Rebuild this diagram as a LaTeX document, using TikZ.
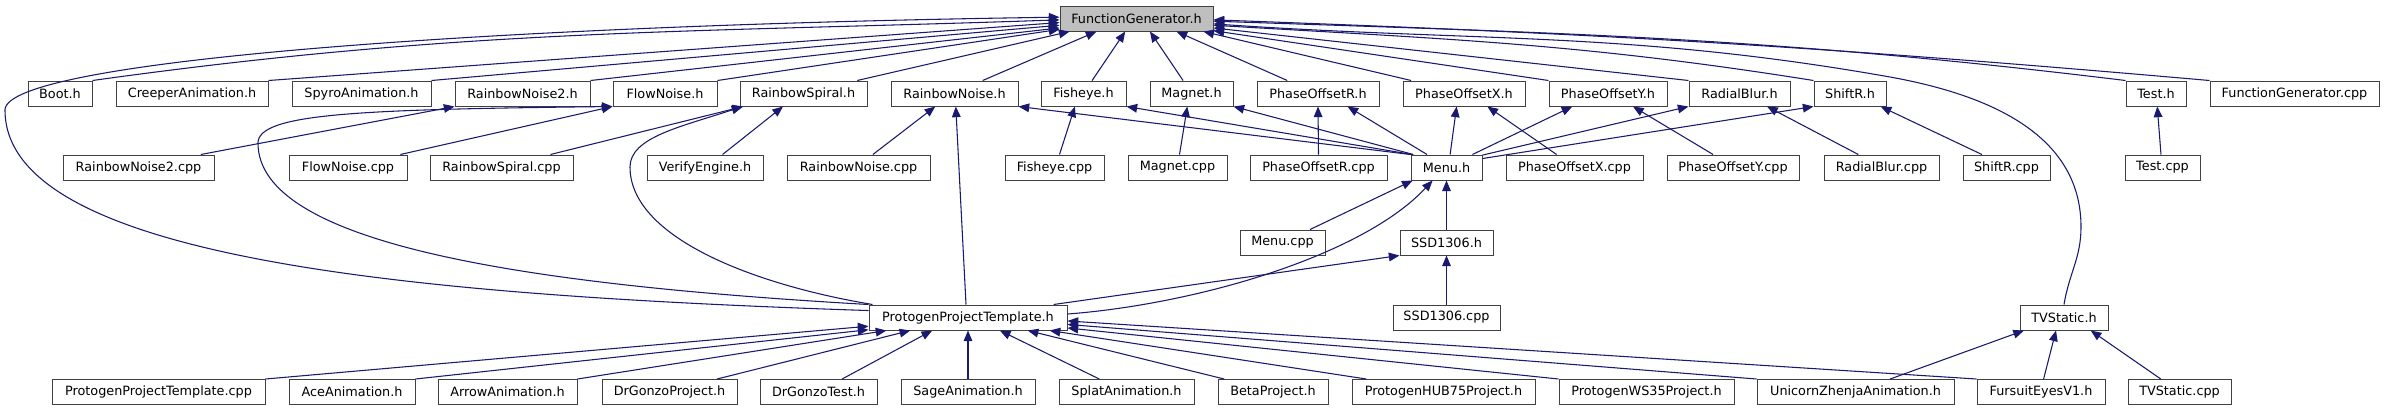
\documentclass[tikz,border=0pt]{standalone}
\usepackage{fontspec}
\setmainfont{DejaVu Sans}
\usetikzlibrary{arrows.meta,calc}
\definecolor{edgeblue}{RGB}{25,25,112}
\definecolor{boxborder}{RGB}{64,64,64}
\definecolor{rootfill}{RGB}{191,191,191}
\newcommand{\mkbox}[5]{\node[box, minimum width={(#3-#2)*0.75pt}] (#1) at ({(#2+#3)/2},#4) {#5};}
\begin{document}
\begin{tikzpicture}[x=0.75pt,y=-0.75pt,
  box/.style={draw=boxborder, line width=0.75pt, fill=white, inner sep=0pt,
    minimum height=18.75pt, font=\fontsize{9.6}{11}\selectfont},
  root/.style={box, fill=rootfill},
  edge/.style={draw=edgeblue, line width=0.8pt, -{Triangle[length=8pt,width=6.5pt]}}]
\fill[white] (0,0) rectangle (2384,411);
\useasboundingbox (0,0) rectangle (2384,411);
% root
\node[root, minimum width={153*0.75pt}] (fg) at (1136.5,18.5) {FunctionGenerator.h};
% row 1
\mkbox{boot}{28}{92}{93.5}{Boot.h}
\mkbox{creeper}{116}{268}{93.5}{CreeperAnimation.h}
\mkbox{spyro}{292}{431}{93.5}{SpyroAnimation.h}
\mkbox{rn2h}{455}{590}{93.5}{RainbowNoise2.h}
\mkbox{flowh}{613}{717}{93.5}{FlowNoise.h}
\mkbox{rspiralh}{740}{867}{93.5}{RainbowSpiral.h}
\mkbox{rnh}{891}{1018}{93.5}{RainbowNoise.h}
\mkbox{fisheyeh}{1041}{1126}{93.5}{Fisheye.h}
\mkbox{magneth}{1150}{1233}{93.5}{Magnet.h}
\mkbox{porh}{1257}{1379}{93.5}{PhaseOffsetR.h}
\mkbox{poxh}{1403}{1525}{93.5}{PhaseOffsetX.h}
\mkbox{poyh}{1549}{1667}{93.5}{PhaseOffsetY.h}
\mkbox{rbh}{1689}{1790}{93.5}{RadialBlur.h}
\mkbox{shifth}{1814}{1886}{93.5}{ShiftR.h}
\mkbox{testh}{2126}{2186}{93.5}{Test.h}
\mkbox{fgcpp}{2210}{2379}{93.5}{FunctionGenerator.cpp}
% row 2
\mkbox{rn2cpp}{63}{214}{167.5}{RainbowNoise2.cpp}
\mkbox{flowcpp}{289}{407}{167.5}{FlowNoise.cpp}
\mkbox{rspiralcpp}{430}{573}{167.5}{RainbowSpiral.cpp}
\mkbox{verify}{647}{763}{167.5}{VerifyEngine.h}
\mkbox{rncpp}{787}{930}{167.5}{RainbowNoise.cpp}
\mkbox{fisheyecpp}{1005}{1104}{167.5}{Fisheye.cpp}
\mkbox{magnetcpp}{1128}{1227}{167.5}{Magnet.cpp}
\mkbox{porcpp}{1250}{1387}{167.5}{PhaseOffsetR.cpp}
\mkbox{menuh}{1411}{1482}{167.5}{Menu.h}
\mkbox{poxcpp}{1506}{1643}{167.5}{PhaseOffsetX.cpp}
\mkbox{poycpp}{1667}{1799}{167.5}{PhaseOffsetY.cpp}
\mkbox{rbcpp}{1824}{1939}{167.5}{RadialBlur.cpp}
\mkbox{shiftcpp}{1963}{2050}{167.5}{ShiftR.cpp}
\mkbox{testcpp}{2125}{2200}{167.5}{Test.cpp}
% row 3
\mkbox{menucpp}{1240}{1325}{242.5}{Menu.cpp}
\mkbox{ssdh}{1400}{1493}{242.5}{SSD1306.h}
% row 4
\mkbox{ppth}{869}{1067}{317.5}{ProtogenProjectTemplate.h}
\mkbox{ssdcpp}{1393}{1500}{317.5}{SSD1306.cpp}
\mkbox{tvsh}{2020}{2108}{317.5}{TVStatic.h}
% row 5
\mkbox{pptcpp}{52}{265}{392}{ProtogenProjectTemplate.cpp}
\mkbox{ace}{289}{415}{392}{AceAnimation.h}
\mkbox{arrow}{438}{577}{392}{ArrowAnimation.h}
\mkbox{drgp}{602}{737}{392}{DrGonzoProject.h}
\mkbox{drgt}{760}{877}{392}{DrGonzoTest.h}
\mkbox{sage}{901}{1035}{392}{SageAnimation.h}
\mkbox{splat}{1059}{1194}{392}{SplatAnimation.h}
\mkbox{beta}{1218}{1328}{392}{BetaProject.h}
\mkbox{hub75}{1352}{1535}{392}{ProtogenHUB75Project.h}
\mkbox{ws35}{1559}{1734}{392}{ProtogenWS35Project.h}
\mkbox{unicorn}{1757}{1954}{392}{UnicornZhenjaAnimation.h}
\mkbox{fursuit}{1977}{2105}{392}{FursuitEyesV1.h}
\mkbox{tvscpp}{2128}{2231}{392}{TVStatic.cpp}
% waypoints
\coordinate (bl1) at (5,110);
\coordinate (il1) at (258,143);
\coordinate (rs1) at (630,167);
\coordinate (tw1) at (2081,227);
\coordinate (tw2) at (1890,77);
% edges into FunctionGenerator.h
\draw[edge] (boot.north east) .. controls +(373,-52) and +(-377,13) .. (fg.181);
\draw[edge] (creeper.north east) -- (fg.183);
\draw[edge] (spyro.north east) -- (fg.185);
\draw[edge] (rn2h.north east) -- (fg.187);
\draw[edge] (flowh.north east) -- (fg.188.5);
\draw[edge] ($(rspiralh.north west)!0.92!(rspiralh.north east)$) -- (fg.-169);
\draw[edge] ($(rnh.north west)!0.72!(rnh.north east)$) -- (fg.-162.6);
\draw[edge] ($(fisheyeh.north west)!0.6!(fisheyeh.north east)$) -- (fg.-131);
\draw[edge] ($(magneth.north west)!0.4!(magneth.north east)$) -- (fg.-44);
\draw[edge] ($(porh.north west)!0.25!(porh.north east)$) -- (fg.-18);
\draw[edge] ($(poxh.north west)!0.07!(poxh.north east)$) -- (fg.-11);
\draw[edge] (poyh.north west) -- (fg.-9);
\draw[edge] (rbh.north west) -- (fg.-7);
\draw[edge] (shifth.north west) .. controls +(-232,-37) and +(235,14) .. (fg.-5.5);
\draw[edge] (tvsh.north) .. controls +(5,-31) and +(0,31) .. (tw1) .. controls +(0,-95) and +(94,17) .. (tw2) .. controls +(-260,-46) and +(263,18) .. (fg.-4);
\draw[edge] (testh.north west) .. controls +(-353,-43) and +(356,12) .. (fg.-2.5);
\draw[edge] (fgcpp.north west) .. controls +(-388,-34) and +(389,14) .. (fg.-1);
\draw[edge] (ppth.176.8) .. controls +(-450,-15) and +(0,150) .. (bl1) .. controls +(0,-50) and +(-560,8) .. (fg.179);
% row 2 -> row 1
\draw[edge] ($(rn2cpp.north west)!0.91!(rn2cpp.north east)$) -- (rn2h.south west);
\draw[edge] ($(flowcpp.north west)!0.94!(flowcpp.north east)$) -- (flowh.south west);
\draw[edge] ($(rspiralcpp.north west)!0.84!(rspiralcpp.north east)$) -- ($(rspiralh.south west)!0.03!(rspiralh.south east)$);
\draw[edge] ($(verify.north west)!0.65!(verify.north east)$) -- ($(rspiralh.south west)!0.34!(rspiralh.south east)$);
\draw[edge] ($(rncpp.north west)!0.6!(rncpp.north east)$) -- ($(rnh.south west)!0.35!(rnh.south east)$);
\draw[edge] ($(fisheyecpp.north west)!0.55!(fisheyecpp.north east)$) -- ($(fisheyeh.south west)!0.4!(fisheyeh.south east)$);
\draw[edge] ($(magnetcpp.north west)!0.52!(magnetcpp.north east)$) -- ($(magneth.south west)!0.45!(magneth.south east)$);
\draw[edge] (porcpp.north) -- (porh.south);
\draw[edge] ($(poxcpp.north west)!0.37!(poxcpp.north east)$) -- ($(poxh.south west)!0.69!(poxh.south east)$);
\draw[edge] ($(poycpp.north west)!0.35!(poycpp.north east)$) -- ($(poyh.south west)!0.71!(poyh.south east)$);
\draw[edge] ($(rbcpp.north west)!0.3!(rbcpp.north east)$) -- ($(rbh.south west)!0.77!(rbh.south east)$);
\draw[edge] ($(shiftcpp.north west)!0.22!(shiftcpp.north east)$) -- ($(shifth.south west)!0.92!(shifth.south east)$);
\draw[edge] ($(testcpp.north west)!0.48!(testcpp.north east)$) -- ($(testh.south west)!0.52!(testh.south east)$);
% Menu.h -> row 1
\draw[edge] (menuh.north west) -- (rnh.south east);
\draw[edge] ($(menuh.north west)!0.02!(menuh.north east)$) -- (fisheyeh.south east);
\draw[edge] ($(menuh.north west)!0.04!(menuh.north east)$) -- (magneth.south east);
\draw[edge] ($(menuh.north west)!0.23!(menuh.north east)$) -- ($(porh.south west)!0.74!(porh.south east)$);
\draw[edge] ($(menuh.north west)!0.55!(menuh.north east)$) -- ($(poxh.south west)!0.44!(poxh.south east)$);
\draw[edge] ($(menuh.north west)!0.86!(menuh.north east)$) -- ($(poyh.south west)!0.2!(poyh.south east)$);
\draw[edge] (menuh.19) -- (rbh.south west);
\draw[edge] (menuh.14) -- (shifth.south west);
% into Menu.h and SSD1306.h
\draw[edge] ($(menucpp.north west)!0.82!(menucpp.north east)$) -- ($(menuh.south west)!0.03!(menuh.south east)$);
\draw[edge] (ssdh.north) -- (menuh.south);
\draw[edge] (ssdcpp.north) -- (ssdh.south);
\draw[edge] ($(ppth.north west)!0.93!(ppth.north east)$) -- (ssdh.south west);
\draw[edge] (ppth.2.6) .. controls +(130,-10) and +(-70,75) .. (menuh.-137);
% ProtogenProjectTemplate.h -> headers
\draw[edge] ($(ppth.north west)!0.49!(ppth.north east)$) -- ($(rnh.south west)!0.51!(rnh.south east)$);
\draw[edge] (ppth.north west) .. controls +(-350,-20) and +(0,100) .. (il1) .. controls +(0,-30) and +(-250,3) .. (flowh.south west);
\draw[edge] ($(ppth.north west)!0.02!(ppth.north east)$) .. controls +(-120,-20) and +(0,70) .. (rs1) .. controls +(0,-30) and +(-60,20) .. (rspiralh.-168);
% row 5 -> ProtogenProjectTemplate.h
\draw[edge] (pptcpp.north east) -- (ppth.185.5);
\draw[edge] (ace.north east) -- (ppth.187);
\draw[edge] (arrow.north east) -- ($(ppth.south west)!0.09!(ppth.south east)$);
\draw[edge] ($(drgp.north west)!0.85!(drgp.north east)$) -- ($(ppth.south west)!0.21!(ppth.south east)$);
\draw[edge] ($(drgt.north west)!0.7!(drgt.north east)$) -- ($(ppth.south west)!0.32!(ppth.south east)$);
\draw[edge] (sage.north) -- (ppth.south);
\draw[edge] ($(splat.north west)!0.3!(splat.north east)$) -- ($(ppth.south west)!0.66!(ppth.south east)$);
\draw[edge] ($(beta.north west)!0.06!(beta.north east)$) -- ($(ppth.south west)!0.8!(ppth.south east)$);
\draw[edge] ($(hub75.north west)!0.08!(hub75.north east)$) -- ($(ppth.south west)!0.91!(ppth.south east)$);
\draw[edge] (ws35.north west) -- (ppth.-6.5);
\draw[edge] (unicorn.north west) -- (ppth.-4.5);
\draw[edge] (fursuit.north west) -- (ppth.-2.5);
% row 5 -> TVStatic.h
\draw[edge] ($(unicorn.north west)!0.675!(unicorn.north east)$) -- ($(tvsh.south west)!0.05!(tvsh.south east)$);
\draw[edge] ($(fursuit.north west)!0.52!(fursuit.north east)$) -- ($(tvsh.south west)!0.41!(tvsh.south east)$);
\draw[edge] ($(tvscpp.north west)!0.32!(tvscpp.north east)$) -- ($(tvsh.south west)!0.8!(tvsh.south east)$);
\end{tikzpicture}
\end{document}
